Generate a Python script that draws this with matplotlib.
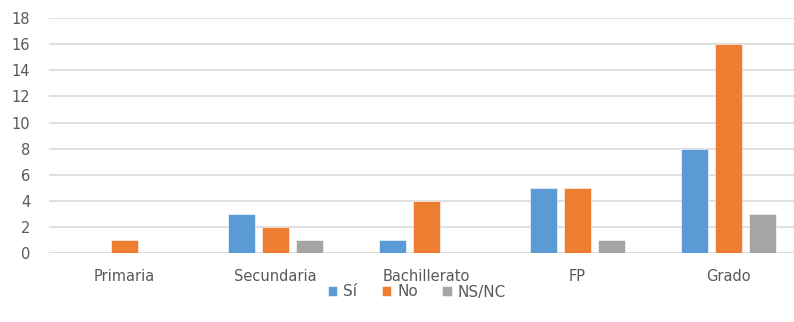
import numpy as np
import matplotlib as mpl
from matplotlib import pyplot as plt

categories = ['Primaria', 'Secundaria', 'Bachillerato', 'FP', 'Grado']
series_names = ['Sí', 'No', 'NS/NC']
si = [0, 3, 1, 5, 8]
no = [1, 2, 4, 5, 16]
nsnc = [0, 1, 0, 1, 3]
colors = ['#5B9BD5', '#ED7D31', '#A5A5A5']

mpl.rcParams['font.family'] = ['DejaVu Sans']
text_color = '#595959'

fig = plt.figure(figsize=(7.94, 3.22), dpi=100)
# plot area runs a little past the right edge of the figure
ax = fig.add_axes([49 / 794, 68.7 / 322, 755 / 794, 235.3 / 322])

x = np.arange(len(categories))
pitch = 0.224
width = 0.175
for i, (vals, name) in enumerate(zip([si, no, nsnc], series_names)):
    ax.bar(x + (i - 1) * pitch, vals, width, color=colors[i], label=name,
           edgecolor='white', linewidth=0.4, zorder=3)

ax.set_xlim(-0.5, len(categories) - 0.5)
ax.set_ylim(0, 18)
ax.set_yticks(range(0, 19, 2))
ax.set_xticks(x)
ax.set_xticklabels(categories)
ax.yaxis.grid(True, color='#D9D9D9', linewidth=1.2, zorder=0)
ax.tick_params(axis='both', length=0, colors=text_color)
ax.tick_params(axis='y', pad=13.5, labelsize=10.5)
ax.tick_params(axis='x', pad=11, labelsize=10.5)
for s in ax.spines.values():
    s.set_visible(False)
ax.axhline(0, color='#D9D9D9', linewidth=1.2, zorder=2)

leg = fig.legend(loc='center', bbox_to_anchor=(417 / 794, 1 - 292 / 322), ncol=3,
                 frameon=False, handlelength=0.6, handleheight=0.6,
                 handletextpad=0.4, columnspacing=1.6, fontsize=11)
for t in leg.get_texts():
    t.set_color(text_color)

fig.savefig('out.png', dpi=100)
